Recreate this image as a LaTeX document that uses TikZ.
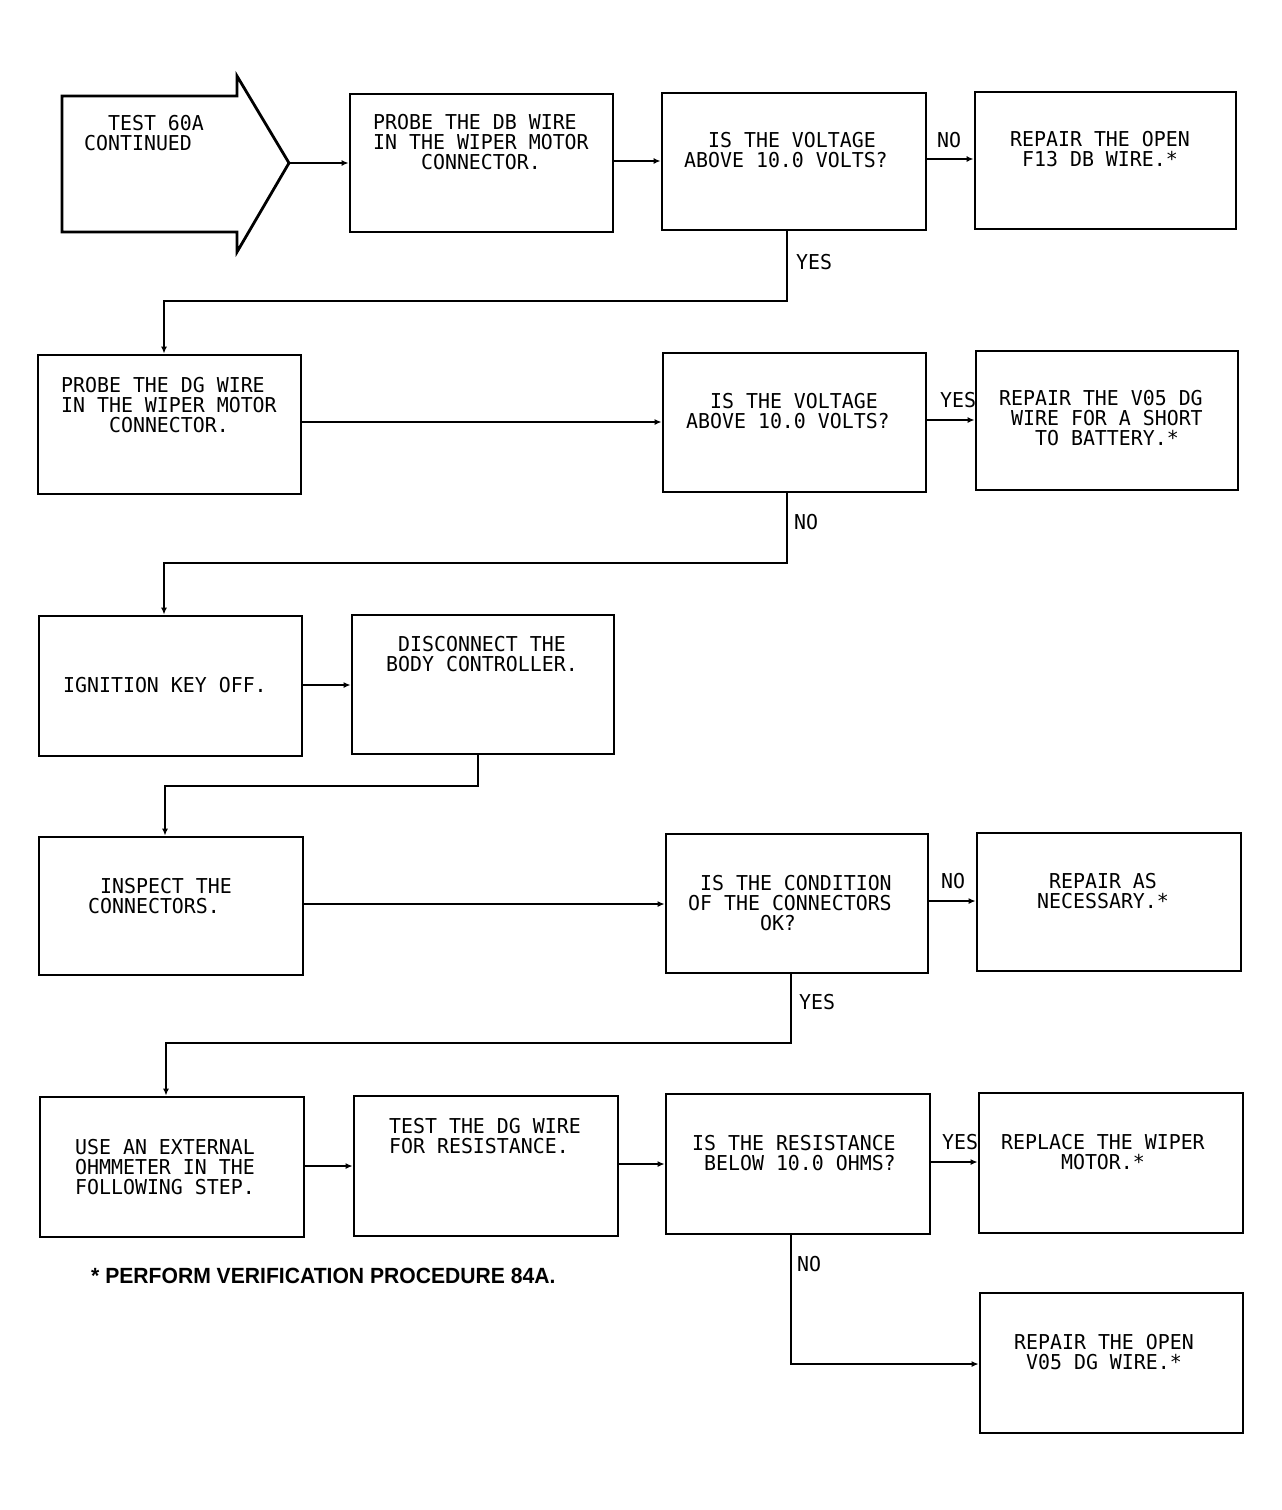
\documentclass[tikz,border=0pt]{standalone}
\usepackage{fontspec}
\usetikzlibrary{arrows.meta}
\newfontfamily\plotfont[FakeStretch=0.97]{DejaVu Sans Mono}
\newfontfamily\notefont[FakeStretch=0.96]{Liberation Sans}
\begin{document}
\begin{tikzpicture}[x=1pt,y=-1pt,
  box/.style 2 args={draw, line width=2.8pt, inner sep=0pt, minimum width=#1pt, minimum height=#2pt},
  txt/.style={anchor=west, inner sep=0pt, align=left, font=\plotfont\fontsize{20.5}{20}\selectfont},
  lbl/.style={anchor=west, inner sep=0pt, font=\plotfont\fontsize{20.5}{20}\selectfont},
  conn/.style={line width=2.2pt, line join=miter, -{Latex[length=7pt,width=6pt]}}]
\fill[white] (0,0) rectangle (1282,1510);
% start arrow
\draw[line width=2.8pt, line join=miter] (62,96) -- (237,96) -- (237,76) -- (289,163) -- (237,252) -- (237,232) -- (62,232) -- cycle;
\coordinate (atip) at (289,163);
% boxes
\node[box={263}{138}] (p1) at (481.5,163) {};
\node[box={264}{137}] (d1) at (794,161.5) {};
\node[box={261}{137}] (r1) at (1105.5,160.5) {};
\node[box={263}{139}] (p2) at (169.5,424.5) {};
\node[box={263}{139}] (d2) at (794.5,422.5) {};
\node[box={262}{139}] (r2) at (1107,420.5) {};
\node[box={263}{140}] (i1) at (170.5,686) {};
\node[box={262}{139}] (dc) at (483,684.5) {};
\node[box={264}{138}] (ins) at (171,906) {};
\node[box={262}{139}] (d3) at (797,903.5) {};
\node[box={264}{138}] (r3) at (1109,902) {};
\node[box={264}{140}] (u) at (172,1167) {};
\node[box={264}{140}] (t) at (486,1166) {};
\node[box={264}{140}] (d4) at (798,1164) {};
\node[box={264}{140}] (r4) at (1111,1163) {};
\node[box={263}{140}] (r5) at (1111.5,1363) {};
% texts
\node[txt] (ta) at (84,133) {\phantom{XX}TEST 60A\\CONTINUED};
\node[txt] (tp1) at (373,142) {PROBE THE DB WIRE\\IN THE WIPER MOTOR\\\phantom{XXXX}CONNECTOR.};
\node[txt] (td1) at (684,150.5) {\phantom{XX}IS THE VOLTAGE\\ABOVE 10.0 VOLTS?};
\node[txt] (tr1) at (1010,149) {REPAIR THE OPEN\\\phantom{X}F13 DB WIRE.*};
\node[txt] (tp2) at (61,405) {PROBE THE DG WIRE\\IN THE WIPER MOTOR\\\phantom{XXXX}CONNECTOR.};
\node[txt] (td2) at (686,410.8) {\phantom{XX}IS THE VOLTAGE\\ABOVE 10.0 VOLTS?};
\node[txt] (tr2) at (999,418.3) {REPAIR THE V05 DG\\\phantom{X}WIRE FOR A SHORT\\\phantom{XXX}TO BATTERY.*};
\node[txt] (ti1) at (63,685) {IGNITION KEY OFF.};
\node[txt] (tdc) at (386,654.5) {\phantom{X}DISCONNECT THE\\BODY CONTROLLER.};
\node[txt] (tin) at (88,896) {\phantom{X}INSPECT THE\\CONNECTORS.};
\node[txt] (td3) at (688,902.7) {\phantom{X}IS THE CONDITION\\OF THE CONNECTORS\\\phantom{XXXXXX}OK?};
\node[txt] (tr3) at (1037,891) {\phantom{X}REPAIR AS\\NECESSARY.*};
\node[txt] (tu) at (75,1167.5) {USE AN EXTERNAL\\OHMMETER IN THE\\FOLLOWING STEP.};
\node[txt] (tt) at (389,1136) {TEST THE DG WIRE\\FOR RESISTANCE.};
\node[txt] (td4) at (692,1153) {IS THE RESISTANCE\\\phantom{X}BELOW 10.0 OHMS?};
\node[txt] (tr4) at (1001,1152.5) {REPLACE THE WIPER\\\phantom{XXXXX}MOTOR.*};
\node[txt] (tr5) at (1014,1352.5) {REPAIR THE OPEN\\\phantom{X}V05 DG WIRE.*};
% labels
\node[lbl] (lno1) at (937,140.5) {NO};
\node[lbl] (lyes1) at (796,262.5) {YES};
\node[lbl] (lyes2) at (940,400.5) {YES};
\node[lbl] (lno2) at (794,522.5) {NO};
\node[lbl] (lno3) at (941,881.5) {NO};
\node[lbl] (lyes3) at (799,1002.5) {YES};
\node[lbl] (lyes4) at (942,1142.5) {YES};
\node[lbl] (lno4) at (797,1264.5) {NO};
% connectors
\draw[conn] (atip) -- (p1.west |- atip);
\draw[conn] (p1.east |- 0,161) -- (d1.west |- 0,161);
\draw[conn] (d1.east |- 0,159) -- (r1.west |- 0,159);
\draw[conn] (d1.south -| 787,0) -- (787,301) -- (164,301) -- (p2.north -| 164,0);
\draw[conn] (p2.east |- 0,422) -- (d2.west |- 0,422);
\draw[conn] (d2.east |- 0,420) -- (r2.west |- 0,420);
\draw[conn] (d2.south -| 787,0) -- (787,563) -- (164,563) -- (i1.north -| 164,0);
\draw[conn] (i1.east |- 0,685) -- (dc.west |- 0,685);
\draw[conn] (dc.south -| 478,0) -- (478,786) -- (165,786) -- (ins.north -| 165,0);
\draw[conn] (ins.east |- 0,904) -- (d3.west |- 0,904);
\draw[conn] (d3.east |- 0,901) -- (r3.west |- 0,901);
\draw[conn] (d3.south -| 791,0) -- (791,1043) -- (166,1043) -- (u.north -| 166,0);
\draw[conn] (u.east |- 0,1166) -- (t.west |- 0,1166);
\draw[conn] (t.east |- 0,1164) -- (d4.west |- 0,1164);
\draw[conn] (d4.east |- 0,1162) -- (r4.west |- 0,1162);
\draw[conn] (d4.south -| 791,0) -- (791,1364) -- (r5.west |- 0,1364);
% footnote
\node[anchor=west, inner sep=0pt, font=\notefont\bfseries\fontsize{22}{26}\selectfont] (note) at (91,1276) {* PERFORM VERIFICATION PROCEDURE 84A.};
\end{tikzpicture}
\end{document}
